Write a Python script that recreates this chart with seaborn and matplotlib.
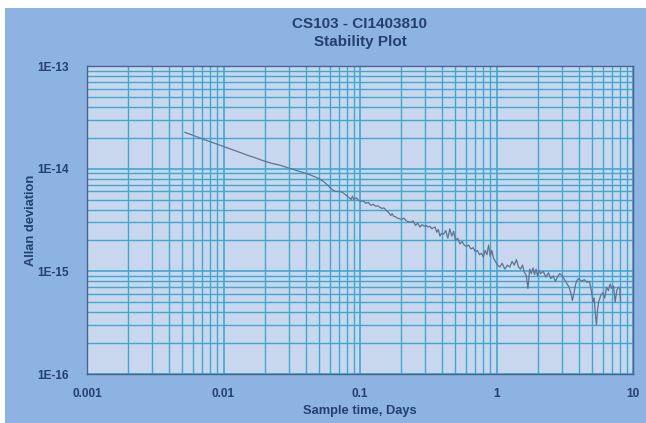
""" Allan deviation stability plot, CS103 vs CI1403810. """
import numpy as np
import pandas as pd
import seaborn as sns
import matplotlib.pyplot as plt
from matplotlib.patches import Rectangle
from matplotlib.ticker import FuncFormatter, LogLocator, NullFormatter

# sample time in days
tau_days = [0.0052, 0.0060, 0.0070, 0.0080, 0.0090, 0.0100, 0.0115, 0.0130, 0.0150, 0.0170,
            0.0190, 0.0210, 0.0230, 0.0260, 0.0290, 0.0320, 0.0350, 0.0380, 0.0420, 0.0460,
            0.0500, 0.0540, 0.0580, 0.0620, 0.0660, 0.0700, 0.0740, 0.0780, 0.0820, 0.0860,
            0.0880, 0.0900, 0.0940, 0.0980, 0.1020, 0.1060, 0.1100, 0.1150, 0.1200, 0.1250,
            0.1300, 0.1350, 0.1400, 0.1450, 0.1500, 0.1560, 0.1620, 0.1680, 0.1720, 0.1760,
            0.1820, 0.1880, 0.1950, 0.2020, 0.2100, 0.2180, 0.2260, 0.2350, 0.2450, 0.2550,
            0.2650, 0.2750, 0.2850, 0.2950, 0.3050, 0.3150, 0.3250, 0.3350, 0.3450, 0.3550,
            0.3650, 0.3750, 0.3850, 0.3950, 0.4100, 0.4250, 0.4400, 0.4550, 0.4700, 0.4850,
            0.5000, 0.5200, 0.5400, 0.5600, 0.5800, 0.6000, 0.6250, 0.6500, 0.6750, 0.7000,
            0.7250, 0.7500, 0.7750, 0.8000, 0.8250, 0.8500, 0.8750, 0.9000, 0.9250, 0.9500,
            0.9800, 1.0200, 1.0600, 1.1000, 1.1500, 1.2000, 1.2500, 1.3000, 1.3500, 1.4000,
            1.4500, 1.5000, 1.5500, 1.6000, 1.6500, 1.7000, 1.7500, 1.8000, 1.8500, 1.9000,
            1.9500, 2.0000, 2.0500, 2.1000, 2.2000, 2.3000, 2.4000, 2.5000, 2.6000, 2.7000,
            2.8000, 2.9000, 3.0000, 3.1000, 3.2000, 3.3000, 3.4000, 3.5000, 3.6000, 3.7000,
            3.8000, 3.9000, 4.0000, 4.2000, 4.4000, 4.6000, 4.8000, 5.0000, 5.1000, 5.2000,
            5.3000, 5.4000, 5.5000, 5.6000, 5.8000, 6.0000, 6.2000, 6.4000, 6.6000, 6.8000,
            7.0000, 7.2000, 7.4000, 7.6000, 7.8000, 8.0000, 8.1000]

# Allan deviation in units of 1E-15
adev_e15 = [22.6, 21.1, 19.5, 18.3, 17.3, 16.5, 15.4, 14.5, 13.5, 12.8,
            12.1, 11.6, 11.2, 10.8, 10.3, 9.9, 9.5, 9.2, 8.8, 8.4,
            8.0, 7.5, 6.9, 6.3, 6.0, 6.0, 5.9, 5.6, 5.3, 5.0,
            5.4, 5.0, 5.2, 4.9, 4.8, 4.85, 4.6, 4.7, 4.4, 4.5,
            4.3, 4.35, 4.2, 4.1, 4.15, 3.9, 3.75, 3.5, 3.65, 3.45,
            3.4, 3.3, 3.25, 3.2, 3.3, 3.1, 3.05, 3.0, 3.1, 2.8,
            2.95, 2.7, 2.85, 2.75, 2.8, 2.7, 2.75, 2.6, 2.65, 2.7,
            2.4, 2.55, 2.2, 2.35, 2.3, 2.5, 2.1, 2.6, 2.2, 2.45,
            2.0, 2.1, 1.85, 1.95, 1.8, 1.75, 1.8, 1.65, 1.7, 1.55,
            1.6, 1.45, 1.5, 1.38, 1.6, 1.45, 1.8, 1.4, 1.6, 1.35,
            1.25, 1.15, 1.1, 1.2, 1.05, 1.15, 1.1, 1.25, 1.15, 1.3,
            1.1, 1.05, 1.15, 0.98, 0.92, 0.68, 1.05, 0.95, 1.08, 0.93,
            1.05, 0.9, 1.02, 0.95, 1.0, 0.88, 0.97, 0.85, 0.9, 0.8,
            0.88, 0.95, 0.92, 0.86, 0.8, 0.75, 0.7, 0.62, 0.52, 0.62,
            0.75, 0.82, 0.85, 0.8, 0.83, 0.78, 0.8, 0.6, 0.5, 0.55,
            0.38, 0.3, 0.42, 0.5, 0.58, 0.62, 0.55, 0.7, 0.65, 0.75,
            0.68, 0.72, 0.5, 0.65, 0.7, 0.69, 0.51]

y_ticks = [1e-16, 1e-15, 1e-14, 1e-13]
x_ticks = [0.001, 0.01, 0.1, 1, 10]

frame_blue = "#8db3e2"
plot_bg = "#c9d7ee"
grid_col = "#3fa8cf"
text_col = "#25406e"

sns.set_theme(style="white")
plt.rcParams['font.family'] = ['Liberation Sans', 'DejaVu Sans']

df = pd.DataFrame({"tau": tau_days, "adev": np.array(adev_e15) * 1e-15})

fig = plt.figure(figsize=(6.46, 4.23), dpi=100, facecolor=frame_blue)
# white strip at the top and left like the screenshot
fig.patches.append(Rectangle((0, 1 - 8 / 423), 1, 8 / 423, transform=fig.transFigure,
                             facecolor="white", edgecolor="none", zorder=0))
fig.patches.append(Rectangle((0, 0), 5 / 646, 1, transform=fig.transFigure,
                             facecolor="white", edgecolor="none", zorder=0))

ax = fig.add_axes([87 / 646, 1 - 374 / 423, 546 / 646, 308 / 423])
ax.set_facecolor(plot_bg)

sns.lineplot(data=df, x="tau", y="adev", ax=ax, estimator=None, sort=False,
             color="#5f7391", linewidth=0.9)

ax.set_xscale("log")
ax.set_yscale("log")
ax.set_xlim(0.001, 10)
ax.set_ylim(1e-16, 1e-13)

ax.xaxis.set_minor_locator(LogLocator(base=10, subs=np.arange(2, 10), numticks=20))
ax.yaxis.set_minor_locator(LogLocator(base=10, subs=np.arange(2, 10), numticks=20))
ax.set_xticks(x_ticks)
ax.set_yticks(y_ticks)
ax.xaxis.set_major_formatter(FuncFormatter(lambda v, p: "%g" % v))
ax.yaxis.set_major_formatter(FuncFormatter(lambda v, p: "1E%d" % int(round(np.log10(v)))))
ax.xaxis.set_minor_formatter(NullFormatter())
ax.yaxis.set_minor_formatter(NullFormatter())

ax.grid(True, which="major", color=grid_col, linewidth=1.2, snap=True)
ax.grid(True, which="minor", color=grid_col, linewidth=1.0, snap=True)
ax.set_axisbelow(True)

ax.tick_params(axis="both", which="both", direction="in", color="#34507d")
ax.tick_params(axis="both", which="major", length=4, width=1)
ax.tick_params(axis="both", which="minor", length=3, width=0.8)
ax.tick_params(axis="y", which="major", pad=13)
ax.tick_params(axis="x", which="major", pad=10)
for lab in ax.get_xticklabels() + ax.get_yticklabels():
    lab.set_fontsize(8.5)
    lab.set_fontweight("bold")
    lab.set_color(text_col)

for side in ["left", "bottom", "top", "right"]:
    ax.spines[side].set_color("#4a6390")
    ax.spines[side].set_linewidth(1.0)

ax.set_xlabel("Sample time, Days", fontsize=9.3, fontweight="bold", color=text_col, labelpad=4)
ax.set_ylabel("Allan deviation", fontsize=9.3, fontweight="bold", color=text_col, labelpad=0)

fig.text(360 / 646, 1 - 24 / 423, "CS103 - CI1403810", ha="center", va="center",
         fontsize=11, fontweight="bold", color=text_col)
fig.text(360 / 646, 1 - 42 / 423, "Stability Plot", ha="center", va="center",
         fontsize=11, fontweight="bold", color=text_col)

fig.savefig("out.png", dpi=100, facecolor=fig.get_facecolor())
